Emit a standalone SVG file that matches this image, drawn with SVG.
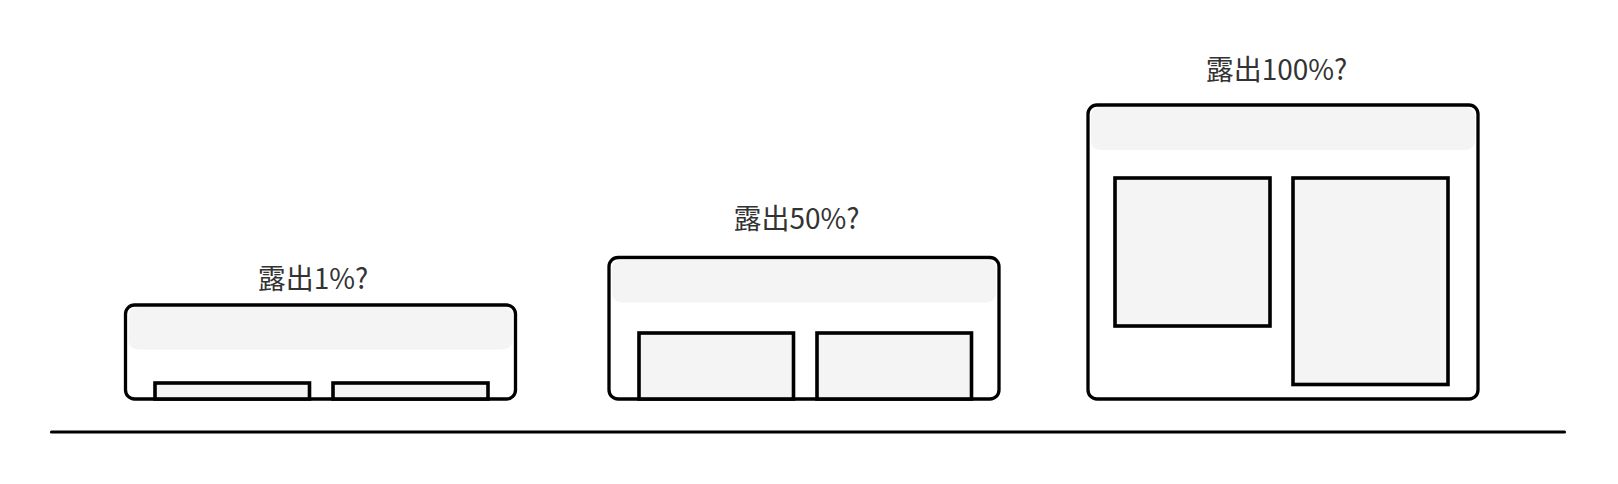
<svg xmlns="http://www.w3.org/2000/svg" width="1618" height="484" viewBox="0 0 1618 484">
<style>
.box{fill:#ffffff;stroke:#000000;stroke-width:3.3}
.hdr{fill:#f4f4f4;stroke:none}
.pane{fill:#f4f4f4;stroke:#000000;stroke-width:3.6}
.lbl{font-family:"Noto Sans CJK SC","Noto Sans",sans-serif;font-size:28px;font-weight:400;fill:#333333;text-anchor:middle}
</style>
<rect width="1618" height="484" fill="#ffffff"/>
<g id="ground">
<line x1="51.5" y1="432" x2="1564.5" y2="432" stroke="#000" stroke-width="3.2" stroke-linecap="round"/>
</g>
<g id="node-1">
<text class="lbl" x="313" y="289">露出1%?</text>
<rect class="box" x="125.5" y="305" width="390" height="94" rx="9"/>
<rect class="hdr" x="128.5" y="307" width="384" height="42.5" rx="9"/>
<rect class="pane" x="155" y="383" width="154.5" height="16"/>
<rect class="pane" x="333" y="383" width="155" height="16"/>
</g>
<g id="node-2">
<text class="lbl" x="796.5" y="229">露出50%?</text>
<rect class="box" x="609" y="257.5" width="390" height="141.5" rx="9"/>
<rect class="hdr" x="612" y="259.5" width="384" height="43" rx="9"/>
<rect class="pane" x="639" y="333" width="154.5" height="66"/>
<rect class="pane" x="817" y="333" width="154.5" height="66"/>
</g>
<g id="node-3">
<text class="lbl" x="1276.5" y="80">露出100%?</text>
<rect class="box" x="1088" y="105" width="390" height="294" rx="9"/>
<rect class="hdr" x="1091" y="107" width="384" height="43" rx="9"/>
<rect class="pane" x="1115" y="178" width="155" height="148"/>
<rect class="pane" x="1293" y="178" width="155" height="206.5"/>
</g>
</svg>
